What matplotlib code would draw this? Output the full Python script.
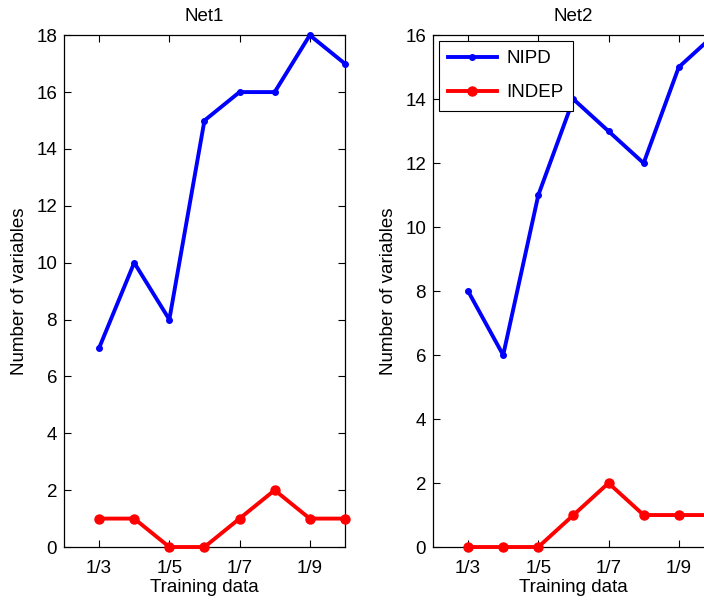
import matplotlib
matplotlib.use('Agg')
import matplotlib.pyplot as plt

plt.rcParams['font.family'] = ['Liberation Sans', 'DejaVu Sans']

tick_labels = ['1/3', '1/5', '1/7', '1/9']
idx = list(range(8))

net1_nipd = [7, 10, 8, 15, 16, 16, 18, 17]
net1_indep = [1, 1, 0, 0, 1, 2, 1, 1]
net2_nipd = [8, 6, 11, 14, 13, 12, 15, 16]
net2_indep = [0, 0, 0, 1, 2, 1, 1, 1]

fs = 13.5

fig = plt.figure(figsize=(7.04, 6.0), dpi=100)
ax1 = fig.add_axes([0.0909, 0.0883, 0.399, 0.853])
ax2 = fig.add_axes([0.615, 0.0883, 0.399, 0.853])


def style(ax, nipd, indep, title, ymax):
    ax.plot(idx, nipd, color='#0000ff', lw=2.8, marker='.', ms=8, label='NIPD', clip_on=False, zorder=3)
    ax.plot(idx, indep, color='#ff0000', lw=2.8, marker='o', ms=6.5, label='INDEP', clip_on=False, zorder=3)
    ax.set_xlim(-1, 7)
    ax.set_ylim(0, ymax)
    ax.set_xticks([0, 2, 4, 6])
    ax.set_xticklabels(tick_labels)
    ax.set_yticks(range(0, ymax + 1, 2))
    ax.tick_params(direction='in', top=True, right=True, labelsize=fs, length=5, width=0.8)
    ax.tick_params(axis='x', pad=9)
    ax.tick_params(axis='y', pad=5)
    for s in ax.spines.values():
        s.set_linewidth(0.9)
    ax.set_title(title, fontsize=fs, pad=10)
    ax.set_xlabel('Training data', fontsize=fs, labelpad=2)
    ax.set_ylabel('Number of variables', fontsize=fs, labelpad=6)


style(ax1, net1_nipd, net1_indep, 'Net1', 18)
style(ax2, net2_nipd, net2_indep, 'Net2', 16)

leg = ax2.legend(loc='upper left', fontsize=fs, fancybox=False, framealpha=1,
                 edgecolor='black', borderaxespad=0.3, handlelength=2.6,
                 labelspacing=0.9, borderpad=0.5, handletextpad=0.5)
leg.get_frame().set_linewidth(0.8)

fig.savefig('out.png', dpi=100)
